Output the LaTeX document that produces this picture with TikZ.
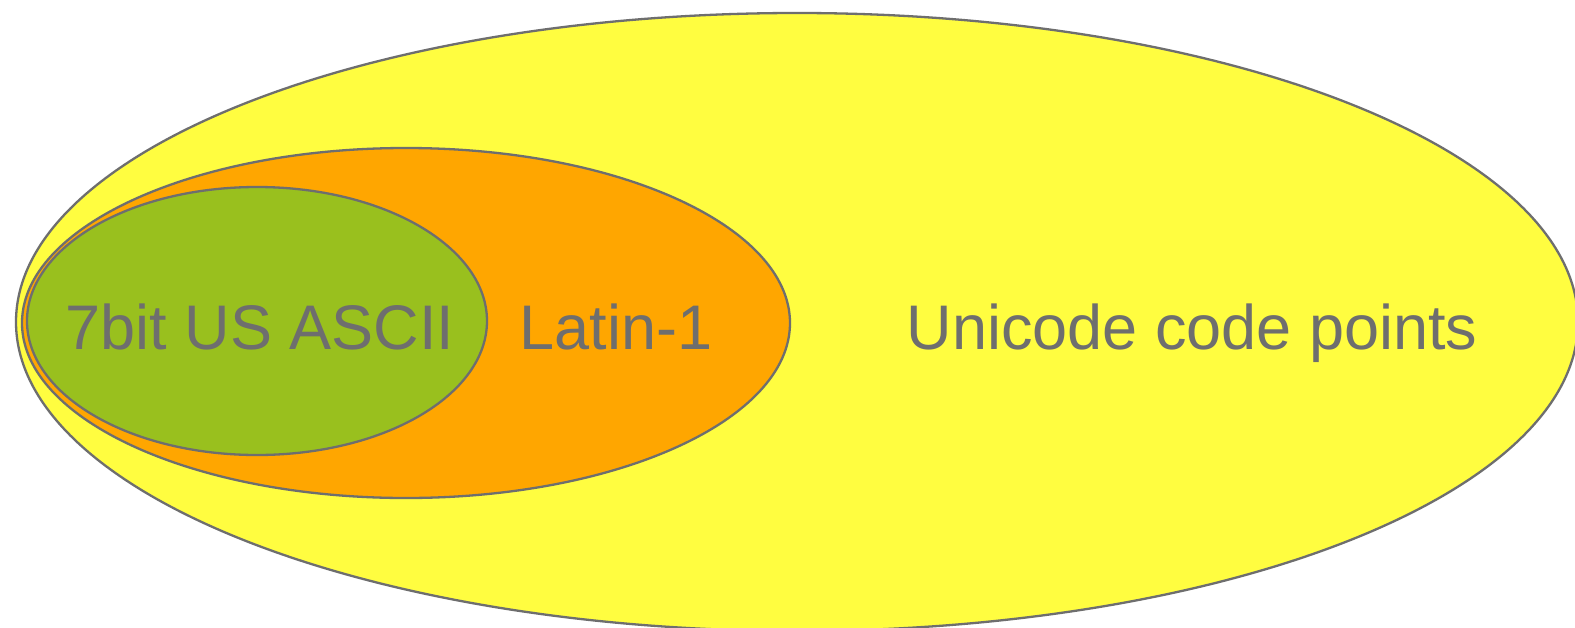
\documentclass[tikz,border=0pt]{standalone}
\usepackage{fontspec}
\setmainfont{Liberation Sans}
\definecolor{yel}{RGB}{255,253,64}
\definecolor{ora}{RGB}{255,166,0}
\definecolor{gre}{RGB}{153,192,30}
\definecolor{gry}{RGB}{110,110,110}
\tikzset{
  set/.style={draw=gry, line width=2.3pt},
  lbl/.style={text=gry, font=\fontsize{63}{63}\selectfont, anchor=base, inner sep=0pt}
}
\begin{document}
\begin{tikzpicture}[x=1pt,y=-1pt]
\useasboundingbox (0,0) rectangle (1575,627);
\clip (0,0) rectangle (1575,627);
\fill[white] (0,0) rectangle (1575,627);
\path[set, fill=yel] (797,322) ellipse [x radius=781, y radius=309];
\path[set, fill=ora] (406,323) ellipse [x radius=384, y radius=175];
\path[set, fill=gre] (257,321) ellipse [x radius=230, y radius=134];
\node[lbl] (ascii) at (260,349) {7bit US ASCII};
\node[lbl] (latin) at (616,349) {Latin-1};
\node[lbl] (uni) at (1192,349) {Unicode code points};
\end{tikzpicture}
\end{document}
